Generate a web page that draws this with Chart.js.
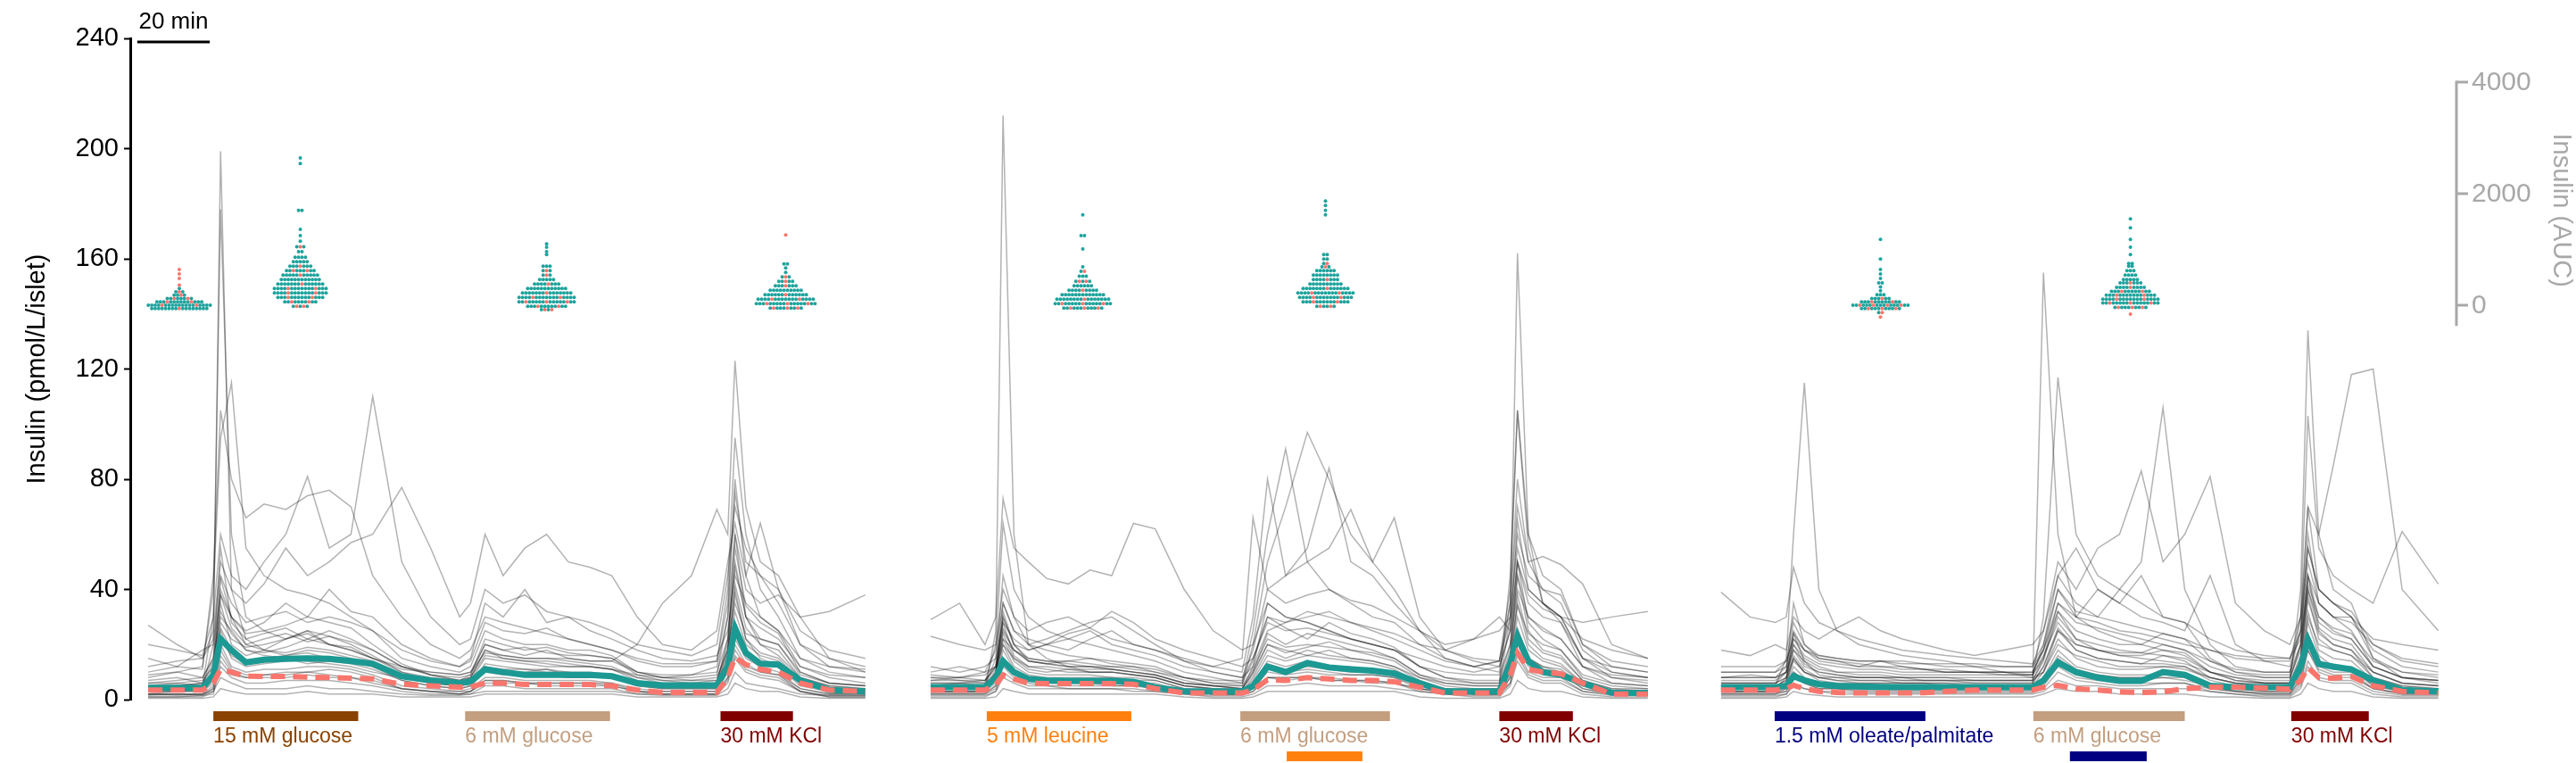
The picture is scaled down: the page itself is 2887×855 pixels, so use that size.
<!DOCTYPE html>
<html lang="en">
<head>
<meta charset="UTF-8">
<title>Insulin secretion traces</title>
<script src="https://cdn.jsdelivr.net/npm/chart.js@4"></script>
<style>
  html, body { margin: 0; padding: 0; background: #fff; }
  #wrap { width: 2887px; height: 855px; }
</style>
</head>
<body>
<div id="wrap"><canvas id="chart" width="2887" height="855"></canvas></div>
<script>
// ---- data ----------------------------------------------------------------
// sample times (min) shared by the three perifusion runs
const times = [0, 8, 15, 18, 20, 23, 27, 32, 38, 44, 50, 56, 62, 70, 78, 86, 89, 93,
  98, 104, 110, 116, 122, 128, 135, 142, 150, 157, 160, 162, 165, 169, 174, 180, 188, 198];
// where each run starts on the shared time axis (min)
const panelOffsets = [0, 216, 434.2];

const meanP1 = [4.3,4.3,4.3,9,22,18, 13.5,14.5,14.8,15,14.8,14, 13,8.5,7,6,6.5,11, 10,9,9,9,9,8.5, 6,5.2,5.2,5.2,12,26, 17,13,12.7,7,3.5,3];
const medianP1 = [3.5,3.5,3.5,6,11,10, 8.5,8.4,8.4,8.2,8,7.8, 7.5,5.6,5,4.5,4.6,6, 6,5.5,5.5,5.5,5.5,5, 3.5,2.6,2.6,2.6,8,15.4, 12.7,11,10,6,3.5,3];
const meanP2 = [4.5,4.5,4.5,8,14,10, 7.5,7,6.8,6.8,6.8,6.5, 4.5,3,3,3,5,12, 10,13.3,11.7,11,10.5,9.5, 6,3,3,3,13,23, 14,10,9,6,2.5,2.4];
const medianP2 = [3.5,3.5,3.5,5.5,8.9,7.5, 6,5.8,5.8,5.8,5.8,5.6, 4,2.4,2.4,2.4,3.5,7.2, 7,8,7.5,7,7,6.5, 4.5,2.4,2.4,2.4,9,17, 11,10,9.4,6,2,2];
const meanP3 = [4.5,4.5,4.5,5,8.5,7, 5.6,5,4.8,4.6,4.5,4.5, 4.5,4.5,4.5,4.5,7,13.5, 10,8,6.8,6.8,10,9, 5,4.5,4.5,4.5,12,21.8, 13,12,11,7,3.5,3];
const medianP3 = [3.5,3.5,3.5,4,5.2,4, 3,2.6,2.4,2.4,2.4,2.5, 3,3.5,3.5,3.5,4.5,5.2, 4,3.5,2.8,2.6,2.8,4, 4.5,4.5,4.2,3.8,7,11.7, 8,7.8,8.4,5,3,2.4];

// single-islet traces (pmol/L/islet)
const tracesP1 = [
  [3,3,4,20,199,40, 22,18,16,17,15,14, 12,8,6,5,6,12, 10,9,9,8,8,8, 6,5,5,5,18,40, 22,15,12,6,4,3],
  [5,6,5,30,178,60, 30,25,22,24,20,18, 15,10,8,7,8,18, 15,14,13,12,12,11, 8,7,6,6,22,60, 30,20,16,8,5,4],
  [8,10,12,40,95,115, 55,45,40,38,35,30, 25,15,12,10,12,25, 22,20,20,18,18,16, 10,8,8,9,30,80, 45,30,25,12,8,6],
  [10,12,11,45,105,80, 66,71,69,74,76,70, 45,30,20,15,18,30, 28,26,24,22,20,18, 14,12,12,14,40,95, 60,40,30,15,10,8],
  [20,18,16,30,60,45, 40,50,60,81,55,60, 110,50,30,20,22,40, 35,38,32,30,28,25, 20,18,16,20,45,70, 55,45,35,20,15,12],
  [27,20,15,25,50,40, 35,42,55,45,50,57, 60,77,55,30,35,60, 45,55,60,50,48,45, 30,20,18,25,50,64, 45,64,40,25,18,15],
  [6,7,8,15,40,30, 20,18,22,25,20,18, 15,12,10,9,10,20, 18,16,18,15,14,14, 20,35,45,69,60,123, 70,50,45,30,15,10],
  [4,5,6,12,30,25, 18,16,15,14,13,12, 10,8,7,6,7,15, 14,13,12,12,12,11, 9,8,9,12,30,60, 40,35,38,30,32,38],
  [12,14,15,22,45,35, 28,30,32,28,30,28, 25,18,14,12,14,28, 25,24,26,22,20,18, 15,13,13,14,35,75, 50,45,40,20,12,10],
  [2,2,2,5,20,12, 10,11,11,12,12,11, 9,5,4,3,4,8, 8,7,7,7,7,6, 4,3,3,3,10,22, 15,12,10,4,2,2],
  [1,1,1,3,12,8, 6,6,7,7,7,6, 5,3,2,2,2,5, 5,4,4,4,4,4, 2,2,2,2,6,15, 10,8,7,3,1,1],
  [3,3,3,8,25,15, 12,13,14,15,14,13, 11,7,5,4,5,10, 9,9,9,8,8,8, 5,4,4,4,12,28, 18,14,12,5,3,3],
  [5,5,5,10,35,20, 16,18,17,19,18,16, 14,9,6,5,6,13, 12,11,11,10,10,9, 6,5,5,5,15,38, 22,17,15,7,4,4],
  [7,8,6,14,55,28, 22,24,26,22,25,22, 18,12,9,7,8,18, 16,15,15,14,13,12, 8,6,6,7,20,50, 30,22,20,9,6,5],
  [0.5,0.5,0.5,1,4,3, 2,2,2,3,2,2, 2,1,1,1,1,2, 2,2,2,2,2,2, 1,1,1,1,2,6, 4,3,3,1,0.5,0.5],
  [15,12,18,20,38,30, 25,28,35,30,40,32, 30,20,15,12,15,35, 30,40,28,30,25,22, 18,15,14,16,25,45, 35,30,25,15,12,11],
  [2,1.5,2,3,8,6, 4,4,4,5,4,4, 3,2,1.5,1.5,2,3, 3,3,3,3,3,3, 2,1.5,1.5,1.5,4,10, 6,5,4,2,1.5,1.5],
  [1.5,2,1.5,2,14,9, 8,9,9,10,9,8, 7,4,3,2,3,6, 6,6,5,5,5,5, 3,2,2,2,8,18, 12,10,9,3,1.5,1.5],
  [4,4,5,10,38,26, 20,22,24,21,23,20, 16,10,7,6,8,16, 15,14,14,13,12,11, 7,5,5,6,16,42, 26,20,18,8,5,4],
  [6,6,7,12,28,22, 19,20,22,25,23,21, 18,12,9,8,9,20, 18,19,17,16,16,15, 10,8,7,8,18,35, 24,22,20,10,6,5],
  [2,3,3,6,22,16, 13,14,15,13,14,14, 12,7,5,4,5,11, 10,10,11,9,9,8, 5,4,4,4,11,26, 17,14,12,6,3,3],
  [9,10,8,15,32,24, 18,17,19,22,20,19, 15,11,10,9,10,17, 16,15,15,15,14,14, 10,9,9,10,22,48, 30,26,22,12,9,8],
  [1,1,1.5,4,18,11, 9,9,10,10,11,10, 8,4,3,2,3,7, 7,6,6,6,6,5, 3,2,2,2,7,16, 11,9,8,3,1,1],
  [3,4,3,7,26,18, 14,15,16,18,17,15, 13,8,6,5,6,12, 11,11,10,10,9,9, 6,5,5,5,13,32, 20,16,14,6,4,3],
  [5,5,6,9,44,30, 24,25,27,30,28,26, 20,13,9,7,9,22, 20,18,19,17,16,15, 9,7,7,7,18,55, 34,28,24,10,6,5],
  [2,2,2,4,16,10, 8,8,8,9,8,8, 6,4,3,3,3,7, 7,6,6,6,6,6, 3,3,3,3,8,20, 13,10,9,4,2,2]
];
const tracesP2 = [
  [3,3,3,25,212,60, 20,15,12,10,10,9, 8,5,4,3,4,8, 8,8,7,7,7,6, 4,3,3,3,10,25, 15,12,10,5,3,3],
  [29,35,20,30,73,55, 50,44,42,47,45,64, 62,40,25,18,20,35, 30,28,25,22,20,18, 15,12,10,12,25,50, 35,30,28,15,12,10],
  [8,7,6,20,64,40, 30,25,22,20,18,16, 14,10,8,6,25,60, 91,50,40,35,30,28, 20,15,12,14,40,105, 60,45,40,20,12,10],
  [5,6,5,15,45,30, 20,18,16,15,14,13, 12,8,6,5,20,50, 70,97,80,60,50,40, 25,15,12,10,35,80, 50,40,35,18,10,8],
  [10,12,10,18,35,25, 22,20,24,26,22,20, 18,15,12,10,30,80, 45,55,84,50,45,35, 25,18,15,14,30,60, 45,40,38,20,14,12],
  [4,4,4,10,25,18, 14,13,12,12,11,10, 9,6,5,4,10,20, 18,16,18,15,14,12, 8,6,5,5,30,162, 60,35,28,12,6,5],
  [6,6,7,12,30,20, 18,20,22,25,20,18, 16,12,10,8,12,25, 28,30,32,28,25,22, 18,14,12,14,35,70, 50,52,49,42,20,15],
  [12,10,12,15,28,22, 18,20,18,22,25,20, 18,14,12,15,66,40, 35,38,40,36,34,30, 25,20,22,25,30,55, 40,35,30,28,30,32],
  [7,8,7,12,35,25, 20,22,25,28,30,25, 20,14,10,8,18,40, 45,50,55,69,50,66, 30,18,14,12,25,65, 40,35,30,15,10,8],
  [2,2,2,5,15,10, 7,6,6,6,5,5, 5,3,2,2,4,10, 9,10,9,9,9,8, 5,3,2,2,8,22, 14,11,10,4,2,2],
  [1,1,1,3,8,6, 4,4,4,4,4,3, 3,2,1,1,2,5, 5,6,5,5,5,4, 3,2,1,1,5,14, 8,6,6,2,1,1],
  [3,3,3,8,20,12, 9,8,8,8,8,7, 7,4,3,3,6,14, 12,14,12,12,11,10, 6,4,3,3,12,35, 20,15,13,6,3,3],
  [4,5,4,9,28,16, 12,11,10,10,10,9, 8,5,4,3,8,18, 15,18,16,15,14,12, 7,4,4,4,15,45, 25,18,16,7,4,3],
  [0.5,0.5,0.5,1,4,3, 2,2,2,2,2,2, 2,1,0.5,0.5,1,3, 3,3,3,3,3,3, 1,0.5,0.5,0.5,2,7, 4,3,3,1,0.5,0.5],
  [23,20,18,20,40,30, 25,28,30,26,32,28, 22,18,15,12,15,30, 28,32,30,28,26,24, 20,18,22,30,25,50, 38,33,30,22,18,15],
  [5,5,5,10,30,20, 15,14,14,13,12,12, 10,7,5,4,12,35, 30,28,25,22,20,18, 12,8,6,6,45,105, 55,35,30,15,8,6],
  [2,2,2,4,12,8, 6,5,5,5,5,5, 4,3,2,2,3,8, 8,8,8,7,7,6, 4,2,2,2,6,18, 10,8,8,3,2,2],
  [9,8,10,12,22,18, 15,14,13,12,12,11, 10,8,7,7,15,28, 25,26,24,22,20,18, 12,10,9,9,20,40, 30,25,22,12,9,8],
  [4,4,4,8,22,14, 10,9,9,9,8,8, 7,4,3,3,7,16, 14,16,15,14,13,11, 6,4,3,3,12,30, 18,14,12,6,3,3],
  [6,6,6,10,32,20, 14,13,12,12,11,10, 9,6,5,4,10,24, 20,24,22,20,18,15, 9,6,5,5,18,50, 28,22,18,8,5,4],
  [3,3,3,6,18,11, 8,7,7,7,6,6, 6,3,2,2,5,13, 11,12,11,10,10,9, 5,3,2,2,9,26, 15,12,11,5,2,2],
  [8,8,9,12,26,18, 14,13,14,15,13,12, 11,8,6,6,14,30, 26,22,28,24,22,19, 12,8,7,7,20,45, 30,26,22,12,8,7],
  [1.5,1.5,1.5,3,10,7, 5,5,4,4,4,4, 3,2,1.5,1.5,3,8, 7,8,7,7,6,6, 3,2,1.5,1.5,6,16, 9,7,7,3,1.5,1.5],
  [5,5,5,9,24,15, 11,10,11,10,10,9, 8,5,4,4,9,20, 17,19,21,18,16,14, 8,5,4,4,14,38, 22,17,15,7,4,4],
  [2.5,2.5,2.5,5,14,9, 7,6,6,6,6,5, 5,3,2,2,4,11, 10,11,10,9,9,8, 4,3,2,2,8,20, 12,10,9,4,2,2],
  [7,7,7,11,20,15, 12,12,11,11,11,10, 9,6,5,5,11,22, 19,20,19,18,17,15, 9,7,6,6,16,34, 24,20,18,9,6,5]
];
const tracesP3 = [
  [5,5,5,15,60,115, 40,25,20,18,16,15, 14,12,10,8,10,25, 20,18,16,15,14,13, 10,8,7,7,20,45, 30,25,22,12,8,7],
  [39,30,28,30,48,35, 28,25,22,20,18,17, 16,15,14,13,20,40, 30,28,25,24,22,20, 18,16,15,15,25,50, 35,30,28,20,15,13],
  [3,3,3,6,15,10, 8,7,6,6,6,6, 5,5,5,5,155,60, 30,25,22,20,18,16, 10,8,6,6,15,40, 25,20,18,10,6,5],
  [6,6,6,10,20,15, 12,10,9,9,8,8, 8,8,8,8,30,117, 60,45,40,35,30,28, 15,10,8,8,20,60, 35,30,25,12,8,7],
  [8,8,8,12,25,18, 15,14,13,12,12,11, 10,10,9,9,20,45, 35,30,40,50,106,40, 20,12,10,10,25,70, 40,35,30,15,10,8],
  [10,10,10,14,22,18, 16,15,14,14,13,13, 12,12,12,12,25,50, 40,55,60,83,50,60, 81,35,25,20,30,55, 40,35,32,20,14,12],
  [4,4,4,8,18,12, 10,9,8,8,8,7, 7,7,7,7,15,30, 22,20,18,17,16,15, 10,7,6,6,40,134, 60,40,35,15,8,6],
  [7,7,7,10,22,16, 13,12,11,11,10,10, 10,10,10,10,18,35, 28,26,24,22,20,18, 14,10,9,9,30,70, 60,85,118,120,40,25],
  [12,12,12,14,28,20, 16,15,14,14,14,13, 13,13,12,12,18,40, 32,30,28,26,24,22, 18,15,14,14,30,103, 55,45,40,35,61,42],
  [2,2,2,3,8,6, 4,4,3,3,3,3, 3,3,3,3,5,12, 8,7,6,6,6,6, 4,3,2,2,6,18, 10,8,8,4,2,2],
  [1,1,1,2,5,4, 3,2,2,2,2,2, 2,2,2,2,3,7, 5,5,4,4,4,4, 3,2,1,1,4,12, 7,6,6,2,1,1],
  [3,3,3,5,12,8, 6,5,5,5,5,5, 5,4,4,4,8,18, 12,10,9,9,9,9, 6,4,3,3,10,28, 16,12,12,5,3,3],
  [5,5,5,7,16,11, 8,7,7,7,6,6, 6,6,6,6,12,25, 18,15,14,13,13,12, 8,6,5,5,14,38, 22,18,16,8,5,4],
  [0.5,0.5,0.5,1,3,2, 1.5,1,1,1,1,1, 1,1,1,1,2,4, 3,3,2,2,2,2, 1,1,0.5,0.5,2,6, 4,3,3,1,0.5,0.5],
  [18,16,20,18,30,25, 22,26,30,25,22,20, 18,16,18,20,25,45, 55,40,35,45,30,28, 22,18,16,15,22,45, 35,30,30,22,20,18],
  [8,9,8,10,35,20, 15,14,12,14,12,11, 10,10,10,9,15,35, 30,40,35,30,28,25, 45,20,14,12,25,55, 40,35,30,18,12,10],
  [2,2,2,4,10,7, 5,5,4,4,4,4, 4,4,4,4,6,15, 10,9,8,8,8,7, 5,3,2,2,8,22, 12,10,10,4,2,2],
  [6,6,6,8,15,10, 8,8,8,8,7,7, 7,7,7,7,10,20, 16,14,12,12,12,11, 8,6,6,6,12,30, 20,18,16,10,6,5],
  [4,4,4,6,14,10, 7,6,6,6,6,6, 6,5,5,5,10,22, 15,12,11,11,12,12, 7,5,4,4,12,32, 18,15,14,7,4,4],
  [6,6,6,8,20,13, 10,9,8,8,8,8, 8,7,7,7,14,32, 22,18,16,16,18,17, 10,7,6,6,16,45, 26,22,20,10,6,5],
  [3,3,3,4,10,7, 5,4,4,4,4,4, 4,4,4,4,7,16, 11,9,8,8,9,9, 5,4,3,3,9,22, 13,11,11,5,3,3],
  [8,8,8,10,18,14, 11,10,10,10,9,9, 9,9,9,9,16,28, 20,18,17,17,20,18, 12,9,8,8,18,40, 28,24,22,12,8,7],
  [1.5,1.5,1.5,2,6,4, 3,3,2.5,2.5,2.5,2.5, 2.5,2.5,2.5,2.5,4,10, 7,6,5,5,6,6, 3,2,1.5,1.5,5,14, 8,7,7,3,1.5,1.5],
  [5,5,5,7,24,14, 9,8,7,7,7,7, 7,6,6,6,12,26, 18,15,14,13,16,14, 8,6,5,5,14,36, 24,20,18,8,5,4],
  [2.5,2.5,2.5,3,9,6, 4,4,3.5,3.5,3.5,3.5, 3.5,3.5,3.5,3.5,6,14, 9,8,7,7,8,8, 4,3,2.5,2.5,7,18, 11,9,9,4,2.5,2.5],
  [10,10,10,12,24,18, 14,13,12,12,11,11, 11,10,10,10,18,32, 25,22,20,20,24,22, 14,11,10,10,20,42, 30,26,24,14,10,9]
];

// AUC swarms: run, centre time (min), AUC levels and number of islets per level
const swarmPanel = [0, 0, 0, 0, 1, 1, 2, 2];
const swarmTime = [8.6, 42, 110, 176, 42, 109, 44, 113];
const swarmLevels = [
  [-60, 0, 60, 120, 180, 240, 300, 360, 420, 480, 560, 640],
  [-20, 60, 140, 220, 300, 380, 460, 540, 620, 700, 780, 860, 960, 1050, 1150, 1250, 1360, 1700, 2540, 2640],
  [-80, -20, 60, 140, 220, 300, 380, 460, 540, 620, 700, 910, 960, 1040, 1100],
  [-50, 30, 110, 190, 270, 350, 430, 510, 590, 670, 740, 1260],
  [-50, 30, 110, 190, 270, 350, 430, 520, 610, 690, 1010, 1250, 1620],
  [-20, 60, 140, 220, 300, 380, 460, 540, 620, 690, 750, 830, 910, 1620, 1700, 1790, 1870],
  [-210, -130, -60, 0, 60, 120, 190, 260, 330, 400, 480, 560, 640, 830, 1180],
  [-160, -40, 40, 110, 180, 250, 320, 400, 460, 540, 620, 700, 750, 910, 1040, 1180, 1390, 1550]
];
const swarmTeal = [
  [16, 17, 12, 6, 3, 2, 1, 0, 0, 0, 0, 0],
  [3, 8, 12, 14, 14, 13, 12, 10, 7, 6, 5, 4, 2, 2, 1, 1, 1, 2, 1, 1],
  [2, 10, 14, 15, 14, 12, 7, 5, 2, 2, 3, 1, 1, 1, 1],
  [7, 15, 15, 12, 10, 6, 4, 2, 1, 1, 2, 0],
  [9, 14, 15, 13, 8, 6, 3, 3, 1, 1, 1, 2, 1],
  [4, 12, 14, 15, 13, 10, 7, 8, 6, 2, 1, 2, 2, 1, 1, 1, 1],
  [0, 1, 9, 13, 10, 5, 3, 1, 1, 2, 1, 1, 1, 1, 1],
  [0, 7, 14, 15, 13, 10, 8, 6, 5, 4, 3, 2, 2, 1, 1, 1, 1, 1]
];
const swarmRed = [
  [1, 2, 2, 2, 1, 1, 0, 1, 0, 1, 1, 1],
  [2, 2, 2, 2, 2, 1, 0, 1, 2, 1, 0, 0, 0, 1, 0, 0, 0, 0, 0, 0],
  [2, 2, 3, 2, 1, 0, 1, 0, 1, 1, 0, 0, 0, 0, 0],
  [3, 3, 2, 1, 0, 1, 1, 1, 0, 0, 0, 1],
  [3, 3, 1, 0, 1, 0, 2, 0, 1, 0, 0, 0, 0],
  [2, 2, 2, 2, 1, 0, 1, 0, 0, 1, 1, 0, 0, 0, 0, 0, 0],
  [1, 1, 3, 4, 2, 1, 0, 0, 0, 0, 0, 0, 0, 0, 0],
  [1, 3, 3, 2, 2, 2, 1, 1, 0, 0, 0, 0, 0, 0, 0, 0, 0, 0]
];

// stimulus periods (min from the start of each run)
const stimLabels = ['15 mM glucose', '6 mM glucose', '30 mM KCl',
  '5 mM leucine', '6 mM glucose', '', '30 mM KCl',
  '1.5 mM oleate/palmitate', '6 mM glucose', '', '30 mM KCl'];
const stimKind = ['glc15', 'glc6', 'kcl', 'leu', 'glc6', 'leu', 'kcl', 'ole', 'glc6', 'ole', 'kcl'];
const stimPanel = [0, 0, 0, 1, 1, 1, 1, 2, 2, 2, 2];
const stimStart = [18, 87.5, 158, 15.5, 85.5, 98.3, 157, 14.8, 86.2, 96.3, 157.4];
const stimEnd = [58, 127.5, 178, 55.4, 126.8, 119.2, 177.3, 56.4, 128, 117.5, 178.8];
const stimRow = [0, 0, 0, 0, 0, 1, 0, 0, 0, 1, 0];

const yTicks = [0, 40, 80, 120, 160, 200, 240];
const aucTicks = [0, 2000, 4000];

// ---- styles ----------------------------------------------------------------
const stimColors = { glc15: '#8A4200', glc6: '#C39E7F', kcl: '#800000', leu: '#FF800E', ole: '#000080' };
const TEAL = '#1C9993';
const DOT_TEAL = '#1FA39D';
const SALMON = '#F8766D';
const AXIS_GREY = '#A8A8A8';
const DOT_STEP = 0.95; // minutes between neighbouring dots in a swarm row

const datasets = [];

function addRun(panel, traces, mean, median) {
  const pts = (v) => times.map((t, i) => ({ x: panelOffsets[panel] + t, y: v[i] }));
  traces.forEach((v) => {
    datasets.push({
      data: pts(v), borderColor: 'rgba(0,0,0,0.3)', borderWidth: 1.5,
      pointRadius: 0, order: 10
    });
  });
  datasets.push({ data: pts(mean), borderColor: TEAL, borderWidth: 7, pointRadius: 0, order: 3 });
  datasets.push({
    data: pts(median), borderColor: SALMON, borderWidth: 6, borderDash: [16, 9],
    pointRadius: 0, order: 2
  });
}
addRun(0, tracesP1, meanP1, medianP1);
addRun(1, tracesP2, meanP2, medianP2);
addRun(2, tracesP3, meanP3, medianP3);

// lay the swarms out row by row, red dots spread through each row
swarmLevels.forEach((levels, k) => {
  const cx = panelOffsets[swarmPanel[k]] + swarmTime[k];
  const teal = [], red = [];
  levels.forEach((lv, i) => {
    const nR = swarmRed[k][i];
    const n = swarmTeal[k][i] + nR;
    const redIdx = new Set();
    for (let r = 0; r < nR; r++) redIdx.add(Math.floor((r + 0.5) * n / nR));
    for (let j = 0; j < n; j++) {
      const p = { x: cx + (j - (n - 1) / 2) * DOT_STEP, y: lv };
      (redIdx.has(j) ? red : teal).push(p);
    }
  });
  datasets.push({ type: 'scatter', yAxisID: 'auc', data: teal, pointRadius: 2,
    pointBackgroundColor: DOT_TEAL, pointBorderWidth: 0, order: 1 });
  datasets.push({ type: 'scatter', yAxisID: 'auc', data: red, pointRadius: 2,
    pointBackgroundColor: SALMON, pointBorderWidth: 0, order: 0 });
});

// stimulus bars, 20-min scale bar and the grey AUC axis
const extras = {
  id: 'extras',
  afterDraw(chart) {
    const { ctx, chartArea } = chart;
    const xs = chart.scales.x;
    const as = chart.scales.auc;
    ctx.save();

    ctx.font = '23px Arial';
    ctx.textAlign = 'left';
    ctx.textBaseline = 'alphabetic';
    stimLabels.forEach((label, i) => {
      const off = panelOffsets[stimPanel[i]];
      const x0 = xs.getPixelForValue(off + stimStart[i]);
      const x1 = xs.getPixelForValue(off + stimEnd[i]);
      const top = chartArea.bottom + (stimRow[i] === 0 ? 13 : 58);
      ctx.fillStyle = stimColors[stimKind[i]];
      ctx.fillRect(x0, top, x1 - x0, 11);
      if (label) ctx.fillText(label, x0, chartArea.bottom + 48);
    });

    // scale bar
    const sb0 = xs.getPixelForValue(-3), sb1 = xs.getPixelForValue(17);
    ctx.strokeStyle = '#000';
    ctx.lineWidth = 3;
    ctx.beginPath();
    ctx.moveTo(sb0, chartArea.top + 4);
    ctx.lineTo(sb1, chartArea.top + 4);
    ctx.stroke();
    ctx.fillStyle = '#000';
    ctx.font = '26px Arial';
    ctx.textAlign = 'center';
    ctx.fillText('20 min', (sb0 + sb1) / 2, chartArea.top - 11);

    // right-hand AUC axis
    const xr = chartArea.right;
    ctx.strokeStyle = AXIS_GREY;
    ctx.fillStyle = AXIS_GREY;
    ctx.lineWidth = 3;
    ctx.beginPath();
    ctx.moveTo(xr, as.getPixelForValue(-370));
    ctx.lineTo(xr, as.getPixelForValue(4000) - 1.5);
    ctx.stroke();
    ctx.font = '30px Arial';
    ctx.textAlign = 'left';
    ctx.textBaseline = 'middle';
    aucTicks.forEach((v) => {
      const y = as.getPixelForValue(v);
      ctx.beginPath();
      ctx.moveTo(xr, y);
      ctx.lineTo(xr + 13, y);
      ctx.stroke();
      ctx.fillText(String(v), xr + 17, y + 1);
    });
    ctx.translate(xr + 117, as.getPixelForValue(1700));
    ctx.rotate(Math.PI / 2);
    ctx.textAlign = 'center';
    ctx.font = '29px Arial';
    ctx.fillText('Insulin (AUC)', 0, 0);
    ctx.restore();
  }
};

new Chart(document.getElementById('chart').getContext('2d'), {
  type: 'line',
  data: { datasets },
  options: {
    responsive: false,
    animation: false,
    devicePixelRatio: 1,
    events: [],
    layout: { padding: { top: 43, bottom: 71, left: 0, right: 134 } },
    elements: { line: { tension: 0 } },
    plugins: { legend: { display: false }, tooltip: { enabled: false } },
    scales: {
      x: { type: 'linear', display: false, min: -4.93, max: 637.2 },
      y: {
        type: 'linear', position: 'left', min: 0, max: 240,
        afterFit(scale) { scale.width = 146; },
        afterBuildTicks(scale) { scale.ticks = yTicks.map((v) => ({ value: v })); },
        ticks: { color: '#000', font: { family: 'Arial', size: 29 }, padding: 6 },
        grid: { drawOnChartArea: false, drawTicks: true, tickLength: 7, tickColor: '#000', tickWidth: 2 },
        border: { display: true, color: '#000', width: 3 },
        title: {
          display: true, text: 'Insulin (pmol/L/islet)', color: '#000',
          font: { family: 'Arial', size: 29 }, padding: { top: 25, bottom: 0 }
        }
      },
      auc: { type: 'linear', display: false, position: 'right', min: -7072, max: 4784 }
    }
  },
  plugins: [extras]
});
</script>
</body>
</html>
